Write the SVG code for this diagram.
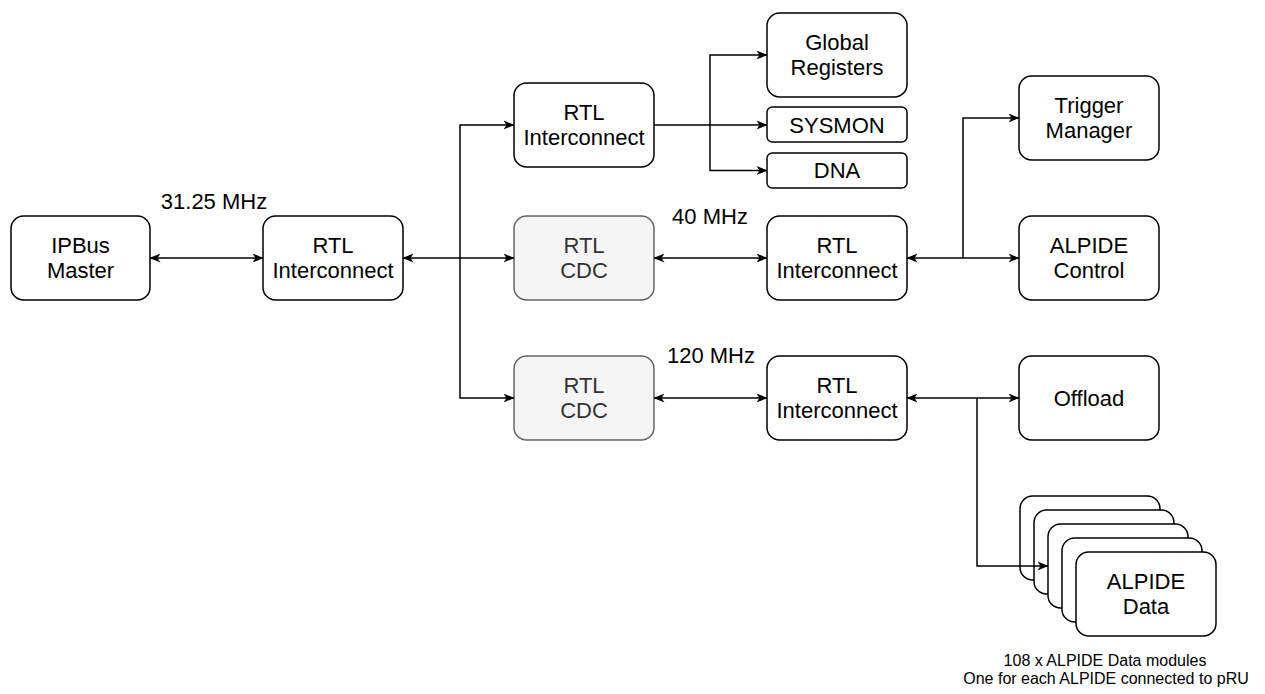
<svg xmlns="http://www.w3.org/2000/svg" width="1265" height="694" viewBox="0 0 1265 694">
<style>
.box{fill:#ffffff;stroke:#000000;stroke-width:1.5}
.cdc{fill:#f5f5f5;stroke:#666666;stroke-width:1.5}
.t{font-family:"Liberation Sans",Arial,Helvetica,sans-serif;font-size:22px;fill:#000000;text-anchor:middle}
.tg{font-family:"Liberation Sans",Arial,Helvetica,sans-serif;font-size:22px;fill:#333333;text-anchor:middle}
.lbl{font-family:"Liberation Sans",Arial,Helvetica,sans-serif;font-size:22px;fill:#000000;text-anchor:middle}
.note{font-family:"Liberation Sans",Arial,Helvetica,sans-serif;font-size:16px;fill:#000000;text-anchor:middle}
.c{fill:none;stroke:#000000;stroke-width:1.5}
</style>
<defs>
<marker id="arr" viewBox="0 0 11 9" refX="10.5" refY="4.5" markerWidth="11" markerHeight="9" markerUnits="userSpaceOnUse" orient="auto-start-reverse">
<path d="M0,0 L11,4.5 L0,9 L3,4.5 Z" fill="#000000"/>
</marker>
</defs>
<rect width="1265" height="694" fill="#ffffff"/>

<g id="ipbus-master">
<rect class="box" x="11" y="216" width="139" height="84" rx="12.6"/>
<text class="t" x="80.5" y="252.7">IPBus</text>
<text class="t" x="80.5" y="278.3">Master</text>
</g>
<g id="rtl-interconnect-main">
<rect class="box" x="263" y="216" width="140" height="84" rx="12.6"/>
<text class="t" x="333" y="252.7">RTL</text>
<text class="t" x="333" y="278.3">Interconnect</text>
</g>
<g id="rtl-interconnect-top">
<rect class="box" x="514" y="83" width="140" height="84" rx="12.6"/>
<text class="t" x="584" y="119.7">RTL</text>
<text class="t" x="584" y="145.3">Interconnect</text>
</g>
<g id="global-registers">
<rect class="box" x="767" y="13" width="140" height="84" rx="12.6"/>
<text class="t" x="837" y="49.7">Global</text>
<text class="t" x="837" y="75.3">Registers</text>
</g>
<g id="sysmon">
<rect class="box" x="767" y="107" width="140" height="35" rx="5.25"/>
<text class="t" x="837" y="132.5">SYSMON</text>
</g>
<g id="dna">
<rect class="box" x="767" y="153" width="140" height="35" rx="5.25"/>
<text class="t" x="837" y="178.3">DNA</text>
</g>
<g id="rtl-cdc-40">
<rect class="cdc" x="514" y="216" width="140" height="84" rx="12.6"/>
<text class="tg" x="584" y="252.7">RTL</text>
<text class="tg" x="584" y="278.3">CDC</text>
</g>
<g id="rtl-interconnect-40">
<rect class="box" x="767" y="216" width="140" height="84" rx="12.6"/>
<text class="t" x="837" y="252.7">RTL</text>
<text class="t" x="837" y="278.3">Interconnect</text>
</g>
<g id="trigger-manager">
<rect class="box" x="1019" y="76" width="140" height="84" rx="12.6"/>
<text class="t" x="1089" y="112.7">Trigger</text>
<text class="t" x="1089" y="138.3">Manager</text>
</g>
<g id="alpide-control">
<rect class="box" x="1019" y="216" width="140" height="84" rx="12.6"/>
<text class="t" x="1089" y="252.7">ALPIDE</text>
<text class="t" x="1089" y="278.3">Control</text>
</g>
<g id="rtl-cdc-120">
<rect class="cdc" x="514" y="356" width="140" height="84" rx="12.6"/>
<text class="tg" x="584" y="392.7">RTL</text>
<text class="tg" x="584" y="418.3">CDC</text>
</g>
<g id="rtl-interconnect-120">
<rect class="box" x="767" y="356" width="140" height="84" rx="12.6"/>
<text class="t" x="837" y="392.7">RTL</text>
<text class="t" x="837" y="418.3">Interconnect</text>
</g>
<g id="offload">
<rect class="box" x="1019" y="356" width="140" height="84" rx="12.6"/>
<text class="t" x="1089" y="405.5">Offload</text>
</g>
<g id="alpide-data">
<rect class="box" x="1020" y="496" width="140" height="84" rx="12.6"/>
<rect class="box" x="1034" y="510" width="140" height="84" rx="12.6"/>
<rect class="box" x="1048" y="524" width="140" height="84" rx="12.6"/>
<rect class="box" x="1062" y="538" width="140" height="84" rx="12.6"/>
<rect class="box" x="1076" y="552" width="140" height="84" rx="12.6"/>
<text class="t" x="1146" y="588.7">ALPIDE</text>
<text class="t" x="1146" y="614.3">Data</text>
</g>

<g id="connectors">
<path class="c" d="M150,258 H263" marker-start="url(#arr)" marker-end="url(#arr)"/>
<path class="c" d="M403,258 H514" marker-start="url(#arr)" marker-end="url(#arr)"/>
<path class="c" d="M460,258 V125 H514" marker-end="url(#arr)"/>
<path class="c" d="M460,258 V398 H514" marker-end="url(#arr)"/>
<path class="c" d="M654,125 H767" marker-end="url(#arr)"/>
<path class="c" d="M710,125 V55 H767" marker-end="url(#arr)"/>
<path class="c" d="M710,125 V170.5 H767" marker-end="url(#arr)"/>
<path class="c" d="M654,258 H767" marker-start="url(#arr)" marker-end="url(#arr)"/>
<path class="c" d="M907,258 H1019" marker-start="url(#arr)" marker-end="url(#arr)"/>
<path class="c" d="M963,258 V118 H1019" marker-end="url(#arr)"/>
<path class="c" d="M654,398 H767" marker-start="url(#arr)" marker-end="url(#arr)"/>
<path class="c" d="M907,398 H1019" marker-start="url(#arr)" marker-end="url(#arr)"/>
<path class="c" d="M977,398 V566 H1048" marker-end="url(#arr)"/>
</g>

<g id="labels">
<text class="lbl" x="214" y="209">31.25 MHz</text>
<text class="lbl" x="710" y="224">40 MHz</text>
<text class="lbl" x="711" y="363">120 MHz</text>
<text class="note" x="1105" y="666">108 x ALPIDE Data modules</text>
<text class="note" x="1106" y="684">One for each ALPIDE connected to pRU</text>
</g>
</svg>
